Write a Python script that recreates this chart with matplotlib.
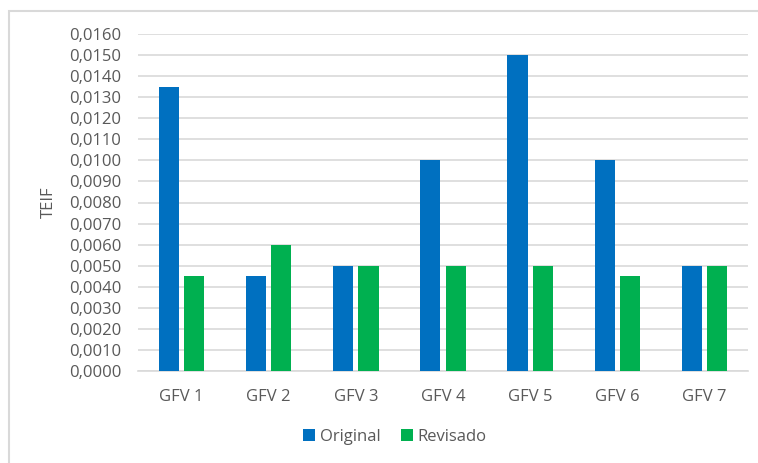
import matplotlib
matplotlib.use("Agg")
import matplotlib.pyplot as plt
import numpy as np
from matplotlib.patches import Rectangle
from matplotlib.ticker import FuncFormatter, MultipleLocator

categories = ["GFV 1", "GFV 2", "GFV 3", "GFV 4", "GFV 5", "GFV 6", "GFV 7"]
original = [0.0135, 0.0045, 0.0050, 0.0100, 0.0150, 0.0100, 0.0050]
revisado = [0.0045, 0.0060, 0.0050, 0.0050, 0.0050, 0.0045, 0.0050]

W, H = 758, 463
fig = plt.figure(figsize=(W/100, H/100), dpi=100)
plt.rcParams['font.family'] = ['Open Sans', 'DejaVu Sans']

# chart border
fig.patches.append(Rectangle((9/W, -0.1), 2.0, 1 - 11/H + 0.1, transform=fig.transFigure,
                             fill=False, edgecolor='#D9D9D9', linewidth=1.5))

ax = fig.add_axes([138/W, 1 - 371/H, (748-138)/W, (371-34)/H])
x = np.arange(len(categories))
bw = 0.23
ax.bar(x - 0.145, original, bw, color='#0070C0', label='Original', zorder=3)
ax.bar(x + 0.145, revisado, bw, color='#00B050', label='Revisado', zorder=3)

ax.set_xlim(-0.5, len(categories) - 0.5)
ax.set_ylim(0, 0.016)
ax.yaxis.set_major_locator(MultipleLocator(0.001))
ax.yaxis.set_major_formatter(FuncFormatter(lambda v, p: f"{v:.4f}".replace('.', ',')))
ax.set_xticks(x)
ax.set_xticklabels(categories)
ax.grid(axis='y', color='#D9D9D9', linewidth=1.2, zorder=0)
for s in ['top', 'right', 'left']:
    ax.spines[s].set_visible(False)
ax.spines['bottom'].set_color('#D9D9D9')
ax.spines['bottom'].set_linewidth(1.2)
ax.tick_params(axis='both', length=0, labelsize=12, labelcolor='#595959')
ax.tick_params(axis='x', pad=13)
ax.tick_params(axis='y', pad=12)
ax.set_ylabel('TEIF', fontsize=12, color='#595959', labelpad=9)

leg = fig.legend(loc='center', bbox_to_anchor=(395/W, 1 - 437/H), ncol=2, frameon=False,
                 fontsize=12, handlelength=0.7, handleheight=0.7, handletextpad=0.3,
                 columnspacing=1.2)
for t in leg.get_texts():
    t.set_color('#595959')

fig.savefig('out.png', dpi=100, facecolor='white')
